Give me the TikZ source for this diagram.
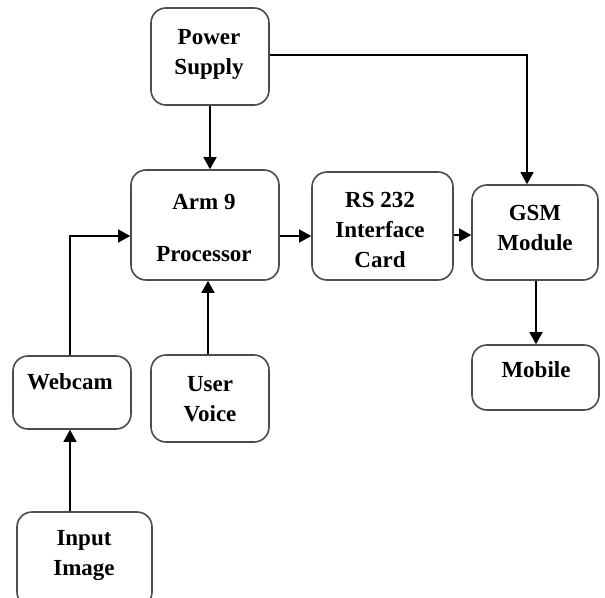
\documentclass[tikz,border=0pt]{standalone}
\usepackage{fontspec}
\setmainfont{Liberation Serif}
\usetikzlibrary{arrows.meta}
\begin{document}
\begin{tikzpicture}[x=1pt,y=-1pt,
  block/.style={draw=black!70, line width=1.6pt, rounded corners=15pt,
    fill=white, inner sep=0pt},
  caption/.style={font=\bfseries\fontsize{23}{30}\selectfont, align=center,
    text=black, inner sep=0pt},
  flow/.style={line width=1.3pt, draw=black,
    -{Triangle[length=12pt,width=13pt]}}]
  \clip (0,0) rectangle (605,597);
  \fill[white] (0,0) rectangle (605,597);

  % boxes
  \node[block, minimum width=118pt, minimum height=97pt] (ps)  at (210,56.5) {};
  \node[block, minimum width=148pt, minimum height=110pt] (arm) at (205,225) {};
  \node[block, minimum width=141pt, minimum height=108pt] (rs)  at (382.5,226) {};
  \node[block, minimum width=126pt, minimum height=95pt] (gsm) at (535,232.5) {};
  \node[block, minimum width=127pt, minimum height=65pt] (mob) at (535.5,377.5) {};
  \node[block, minimum width=118pt, minimum height=73pt] (web) at (72,392.5) {};
  \node[block, minimum width=118pt, minimum height=87pt] (uv)  at (210,398.5) {};
  \node[block, minimum width=135pt, minimum height=95pt] (inp) at (84.5,559.5) {};

  % captions
  \node[caption] (tps)  at (209,54)    {Power\\Supply};
  \node[caption] (tarm) at (204,228)   {Arm 9\\[22pt]Processor};
  \node[caption] (trs)  at (380,230)   {RS 232\\Interface\\Card};
  \node[caption] (tgsm) at (535,228)   {GSM\\Module};
  \node[caption] (tmob) at (536,370)   {Mobile};
  \node[caption] (tweb) at (70,382)    {Webcam};
  \node[caption] (tuv)  at (210,399)   {User\\Voice};
  \node[caption] (tinp) at (84,555.5)  {Input\\Image};

  % connectors
  \draw[flow] (ps.south) -- (ps.south |- arm.north);
  \draw[flow] (ps.east |- 0,55) -| (gsm.north -| 527,0);
  \draw[flow] (arm.east |- 0,236) -- (rs.west |- 0,236);
  \draw[flow] (rs.east |- 0,235) -- (gsm.west |- 0,235);
  \draw[flow] (gsm.south -| 536,0) -- (mob.north -| 536,0);
  \draw[flow] (web.north -| 70,0) |- (arm.west |- 0,236);
  \draw[flow] (uv.north -| 208,0) -- (arm.south -| 208,0);
  \draw[flow] (inp.north -| 70,0) -- (web.south -| 70,0);
\end{tikzpicture}
\end{document}
